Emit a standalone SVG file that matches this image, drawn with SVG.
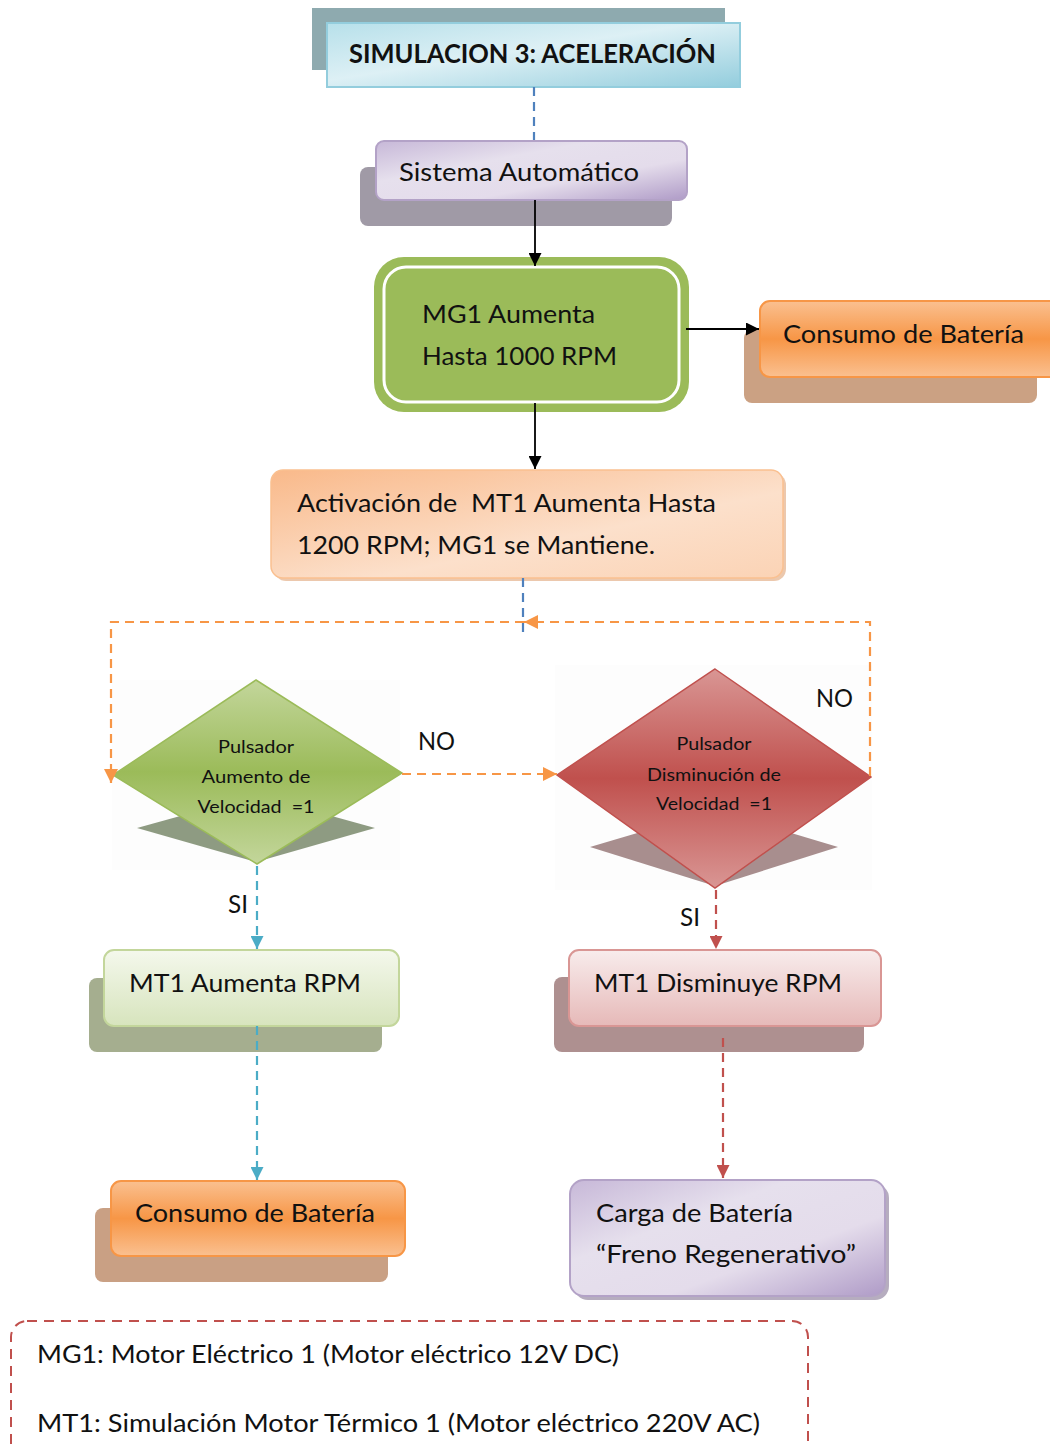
<svg xmlns="http://www.w3.org/2000/svg" width="1050" height="1447" viewBox="0 0 1050 1447">
  <style>
    text { white-space: pre; }
    .t { font-family: Lato, "Open Sans", "Liberation Sans", sans-serif; font-size: 25px; fill: #111; }
    .tb { font-family: Lato, "Open Sans", "Liberation Sans", sans-serif; font-size: 26px; font-weight: bold; fill: #111; }
    .ts { font-family: Lato, "Open Sans", "Liberation Sans", sans-serif; font-size: 18px; fill: #111; }
    .c { fill: none; stroke-width: 2.2; }
    .solid { stroke: #000; stroke-width: 1.8; fill: none; }
    .dash { stroke-dasharray: 9 6; }
  </style>
  <defs>
    <linearGradient id="gTitle" x1="0" y1="0" x2="1" y2="1">
      <stop offset="0" stop-color="#B7E0EA"/>
      <stop offset="0.45" stop-color="#DDF0F5"/>
      <stop offset="1" stop-color="#93CDDD"/>
    </linearGradient>
    <linearGradient id="gPurple" x1="0" y1="0" x2="1" y2="1">
      <stop offset="0" stop-color="#C7B8D8"/>
      <stop offset="0.35" stop-color="#E6E0ED"/>
      <stop offset="0.65" stop-color="#E4DCEB"/>
      <stop offset="1" stop-color="#AF9BC7"/>
    </linearGradient>
    <linearGradient id="gOrange" x1="0" y1="0" x2="0" y2="1">
      <stop offset="0" stop-color="#FAC090"/>
      <stop offset="0.5" stop-color="#F79646"/>
      <stop offset="1" stop-color="#FAC090"/>
    </linearGradient>
    <linearGradient id="gPeach" x1="0" y1="0" x2="1" y2="1">
      <stop offset="0" stop-color="#F9B98A"/>
      <stop offset="0.6" stop-color="#FCE0CB"/>
      <stop offset="1" stop-color="#FBD3B5"/>
    </linearGradient>
    <linearGradient id="gGreenD" x1="0" y1="0" x2="0" y2="1">
      <stop offset="0" stop-color="#C3D69B"/>
      <stop offset="0.5" stop-color="#9BBB59"/>
      <stop offset="1" stop-color="#C3D69B"/>
    </linearGradient>
    <linearGradient id="gRedD" x1="0" y1="0" x2="0" y2="1">
      <stop offset="0" stop-color="#D99694"/>
      <stop offset="0.5" stop-color="#C0504D"/>
      <stop offset="1" stop-color="#D99694"/>
    </linearGradient>
    <linearGradient id="gLightGreen" x1="0" y1="0" x2="0" y2="1">
      <stop offset="0" stop-color="#F4F8EC"/>
      <stop offset="1" stop-color="#D7E4BD"/>
    </linearGradient>
    <linearGradient id="gPink" x1="0" y1="0" x2="0" y2="1">
      <stop offset="0" stop-color="#F8ECEC"/>
      <stop offset="1" stop-color="#E6B9B8"/>
    </linearGradient>
    <marker id="aBlack" viewBox="0 0 10 10" refX="10" refY="5" markerWidth="13" markerHeight="13" markerUnits="userSpaceOnUse" orient="auto">
      <path d="M0,0 L10,5 L0,10 z" fill="#000"/>
    </marker>
    <marker id="aOrange" viewBox="0 0 10 10" refX="10" refY="5" markerWidth="14" markerHeight="14" markerUnits="userSpaceOnUse" orient="auto">
      <path d="M0,0 L10,5 L0,10 z" fill="#F79646"/>
    </marker>
    <marker id="aCyan" viewBox="0 0 10 10" refX="10" refY="5" markerWidth="13" markerHeight="13" markerUnits="userSpaceOnUse" orient="auto">
      <path d="M0,0 L10,5 L0,10 z" fill="#4BACC6"/>
    </marker>
    <marker id="aRed" viewBox="0 0 10 10" refX="10" refY="5" markerWidth="13" markerHeight="13" markerUnits="userSpaceOnUse" orient="auto">
      <path d="M0,0 L10,5 L0,10 z" fill="#C0504D"/>
    </marker>
  </defs>

  <rect width="1050" height="1447" fill="#FFFFFF"/>

  <!-- title -->
  <g id="title">
    <rect x="312" y="8" width="413" height="62" fill="#8EAAAF"/>
    <rect x="327" y="23" width="413" height="64" fill="url(#gTitle)" stroke="#93CDDD" stroke-width="2"/>
    <text class="tb" x="349" y="63" textLength="367" lengthAdjust="spacingAndGlyphs">SIMULACION 3: ACELERACIÓN</text>
  </g>

  <!-- automatic system -->
  <g id="sistema">
    <rect x="360" y="167" width="312" height="59" rx="8" fill="#A09AA6"/>
    <rect x="376" y="141" width="311" height="59" rx="8" fill="url(#gPurple)" stroke="#B3A2C7" stroke-width="2"/>
    <text class="t" x="399" y="181" textLength="240" lengthAdjust="spacingAndGlyphs">Sistema Automático</text>
  </g>

  <!-- MG1 step -->
  <g id="mg1">
    <rect x="374" y="257" width="315" height="155" rx="30" fill="#9BBB59"/>
    <rect x="384" y="267" width="295" height="135" rx="22" fill="#9BBB59" stroke="#FFFFFF" stroke-width="3"/>
    <text class="t" x="422" y="323" textLength="173" lengthAdjust="spacingAndGlyphs">MG1 Aumenta</text>
    <text class="t" x="422" y="365" textLength="195" lengthAdjust="spacingAndGlyphs">Hasta 1000 RPM</text>
  </g>

  <!-- battery consumption (top) -->
  <g id="consumo1">
    <rect x="744" y="330" width="293" height="73" rx="8" fill="#CBA183"/>
    <rect x="760" y="301" width="300" height="76" rx="10" fill="url(#gOrange)" stroke="#F79646" stroke-width="2"/>
    <text class="t" x="783" y="343" textLength="241" lengthAdjust="spacingAndGlyphs">Consumo de Batería</text>
  </g>

  <!-- MT1 activation -->
  <g id="activacion">
    <rect x="274" y="473" width="512" height="108" rx="12" fill="#E4B08A" opacity="0.7"/>
    <rect x="271" y="470" width="512" height="108" rx="12" fill="url(#gPeach)" stroke="#FAC090" stroke-width="1.5"/>
    <text class="t" x="297" y="512" textLength="419" lengthAdjust="spacingAndGlyphs">Activación de  MT1 Aumenta Hasta</text>
    <text class="t" x="297" y="554" textLength="358" lengthAdjust="spacingAndGlyphs">1200 RPM; MG1 se Mantiene.</text>
  </g>

  <!-- speed-up button decision -->
  <g id="decision-aumento">
    <rect x="112" y="680" width="288" height="190" fill="#FDFDFD"/>
    <polygon points="137,828 256,795 375,828 256,862" fill="#8E9B82"/>
    <polygon points="256,680 402,773 257,864 113,775" fill="url(#gGreenD)" stroke="#9BBB59" stroke-width="1.5"/>
    <text class="ts" x="256" y="753" text-anchor="middle" textLength="76" lengthAdjust="spacingAndGlyphs">Pulsador</text>
    <text class="ts" x="256" y="783" text-anchor="middle" textLength="109" lengthAdjust="spacingAndGlyphs">Aumento de</text>
    <text class="ts" x="256" y="813" text-anchor="middle" textLength="117" lengthAdjust="spacingAndGlyphs">Velocidad  =1</text>
  </g>

  <!-- slow-down button decision -->
  <g id="decision-disminucion">
    <rect x="555" y="665" width="317" height="225" fill="#FDFDFD"/>
    <polygon points="590,847 715,810 838,847 715,886" fill="#A88E8E"/>
    <polygon points="715,669 871,777 715,888 557,775" fill="url(#gRedD)" stroke="#C0504D" stroke-width="1.5"/>
    <text class="ts" x="714" y="750" text-anchor="middle" textLength="75" lengthAdjust="spacingAndGlyphs">Pulsador</text>
    <text class="ts" x="714" y="781" text-anchor="middle" textLength="134" lengthAdjust="spacingAndGlyphs">Disminución de</text>
    <text class="ts" x="714" y="810" text-anchor="middle" textLength="116" lengthAdjust="spacingAndGlyphs">Velocidad  =1</text>
  </g>

  <!-- MT1 speeds up -->
  <g id="mt1-aumenta">
    <rect x="89" y="978" width="293" height="74" rx="8" fill="#A5AE8F"/>
    <rect x="104" y="950" width="295" height="76" rx="10" fill="url(#gLightGreen)" stroke="#C3D69B" stroke-width="2"/>
    <text class="t" x="129" y="992" textLength="232" lengthAdjust="spacingAndGlyphs">MT1 Aumenta RPM</text>
  </g>

  <!-- MT1 slows down -->
  <g id="mt1-disminuye">
    <rect x="554" y="977" width="310" height="75" rx="8" fill="#AE9090"/>
    <rect x="569" y="950" width="312" height="76" rx="10" fill="url(#gPink)" stroke="#D99694" stroke-width="2"/>
    <text class="t" x="594" y="992" textLength="248" lengthAdjust="spacingAndGlyphs">MT1 Disminuye RPM</text>
  </g>

  <!-- battery consumption (bottom) -->
  <g id="consumo2">
    <rect x="95" y="1208" width="293" height="74" rx="8" fill="#C9A084"/>
    <rect x="111" y="1181" width="294" height="75" rx="10" fill="url(#gOrange)" stroke="#F79646" stroke-width="2"/>
    <text class="t" x="135" y="1222" textLength="240" lengthAdjust="spacingAndGlyphs">Consumo de Batería</text>
  </g>

  <!-- battery charge -->
  <g id="carga">
    <rect x="574" y="1184" width="315" height="116" rx="14" fill="#B6ADBF"/>
    <rect x="570" y="1180" width="315" height="116" rx="14" fill="url(#gPurple)" stroke="#B3A2C7" stroke-width="2"/>
    <text class="t" x="596" y="1222" textLength="197" lengthAdjust="spacingAndGlyphs">Carga de Batería</text>
    <text class="t" x="596" y="1263" textLength="260" lengthAdjust="spacingAndGlyphs">“Freno Regenerativo”</text>
  </g>

  <!-- connectors, drawn over the node shadows -->
  <g id="connectors">
    <path class="c dash" stroke="#4F81BD" d="M534,87 V140"/>
    <path class="solid" d="M535,200 V266" marker-end="url(#aBlack)"/>
    <path class="solid" d="M686,329 H759" marker-end="url(#aBlack)"/>
    <path class="solid" d="M535,403 V469" marker-end="url(#aBlack)"/>
    <path class="c dash" stroke="#4F81BD" d="M523,578 V632"/>
    <path class="c dash" stroke="#F79646" d="M870,776 V622 H524" marker-end="url(#aOrange)"/>
    <path class="c dash" stroke="#F79646" d="M524,622 H111 V783" marker-end="url(#aOrange)"/>
    <path class="c dash" stroke="#F79646" d="M402,774 H557" marker-end="url(#aOrange)"/>
    <path class="c dash" stroke="#4BACC6" d="M257,866 V949" marker-end="url(#aCyan)"/>
    <path class="c dash" stroke="#4BACC6" d="M257,1026 V1180" marker-end="url(#aCyan)"/>
    <path class="c dash" stroke="#C0504D" d="M716,890 V949" marker-end="url(#aRed)"/>
    <path class="c dash" stroke="#C0504D" d="M723,1038 V1178" marker-end="url(#aRed)"/>
  </g>

  <!-- branch labels -->
  <g id="labels">
    <text class="t" x="418" y="750" textLength="37" lengthAdjust="spacingAndGlyphs">NO</text>
    <text class="t" x="816" y="707" textLength="37" lengthAdjust="spacingAndGlyphs">NO</text>
    <text class="t" x="228" y="913" textLength="20" lengthAdjust="spacingAndGlyphs">SI</text>
    <text class="t" x="680" y="926" textLength="20" lengthAdjust="spacingAndGlyphs">SI</text>
  </g>

  <!-- legend -->
  <g id="leyenda">
    <rect x="11" y="1321" width="797" height="150" rx="16" fill="none" stroke="#C0504D" stroke-width="2" stroke-dasharray="10 7"/>
    <text class="t" x="37" y="1363" textLength="582" lengthAdjust="spacingAndGlyphs">MG1: Motor Eléctrico 1 (Motor eléctrico 12V DC)</text>
    <text class="t" x="37" y="1432" textLength="723" lengthAdjust="spacingAndGlyphs">MT1: Simulación Motor Térmico 1 (Motor eléctrico 220V AC)</text>
  </g>
</svg>
